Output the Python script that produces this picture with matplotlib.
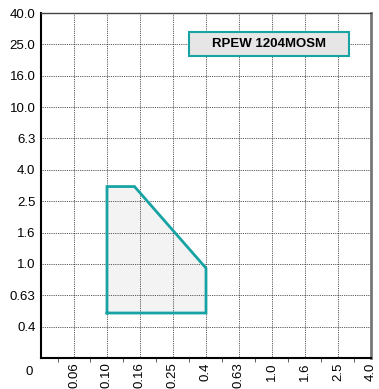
import numpy as np
import matplotlib
matplotlib.use('Agg')
import matplotlib.pyplot as plt
from matplotlib.patches import Polygon, Rectangle

# tick series (nominal values, evenly spaced on the chart)
x_ticks = [0, 0.06, 0.10, 0.16, 0.25, 0.4, 0.63, 1.0, 1.6, 2.5, 4.0]
x_labels = ['0', '0.06', '0.10', '0.16', '0.25', '0.4', '0.63', '1.0', '1.6', '2.5', '4.0']
y_ticks = [0, 0.4, 0.63, 1.0, 1.6, 2.5, 4.0, 6.3, 10.0, 16.0, 25.0, 40.0]
y_labels = ['', '0.4', '0.63', '1.0', '1.6', '2.5', '4.0', '6.3', '10.0', '16.0', '25.0', '40.0']

# application range outline
area_x = [0.10, 0.10, 0.15, 0.40, 0.40]
area_y = [0.50, 3.20, 3.20, 0.95, 0.50]
insert_name = 'RPEW 1204MOSM'

teal = '#17a3a3'
plt.rcParams['font.family'] = ['Liberation Sans', 'DejaVu Sans']

xi = np.arange(len(x_ticks))
yi = np.arange(len(y_ticks))

fig = plt.figure(figsize=(3.79, 3.89), dpi=100)
ax = fig.add_axes([41 / 379, 31 / 389, 330 / 379, 345 / 389])

ax.set_xscale('function', functions=(lambda v: np.interp(v, x_ticks, xi),
                                     lambda p: np.interp(p, xi, x_ticks)))
ax.set_yscale('function', functions=(lambda v: np.interp(v, y_ticks, yi),
                                     lambda p: np.interp(p, yi, y_ticks)))
ax.set_xlim(x_ticks[0], x_ticks[-1])
ax.set_ylim(y_ticks[0], y_ticks[-1])

ax.set_xticks(x_ticks)
ax.set_xticklabels(x_labels, rotation=90, fontsize=9.5)
ax.set_yticks(y_ticks)
ax.set_yticklabels(y_labels, fontsize=9.5)
ax.get_xticklabels()[0].set_visible(False)

# small marks half way between the x ticks
mids = np.interp(xi[:-1] + 0.5, xi, x_ticks)
ax.set_xticks(mids, minor=True)
ax.tick_params(axis='x', which='minor', length=3, width=0.6, color='#444444')
ax.tick_params(axis='x', which='major', length=0, pad=3)
ax.tick_params(axis='y', which='major', length=0, pad=4)

ax.grid(True, which='major', color='#222222', linestyle=(0, (1, 1.2)), linewidth=0.6, zorder=3)

poly = Polygon(list(zip(area_x, area_y)), closed=True, facecolor='#f3f3f3',
               edgecolor='none', zorder=1)
ax.add_patch(poly)
ax.plot(area_x + area_x[:1], area_y + area_y[:1], color=teal, linewidth=2, zorder=4,
        solid_joinstyle='miter')

ax.text(-0.025, -0.04, '0', transform=ax.transAxes, ha='right', va='center', fontsize=9.5)

for side in ['left', 'bottom']:
    ax.spines[side].set_color('black')
    ax.spines[side].set_linewidth(1.5)
ax.spines['top'].set_color('#444444')
ax.spines['top'].set_linewidth(1.0)
ax.spines['right'].set_color('#777777')
ax.spines['right'].set_linewidth(2.0)

box = Rectangle((0.448, 0.875), 0.485, 0.07, transform=ax.transAxes,
                facecolor='#e6e6e6', edgecolor=teal, linewidth=1.5, zorder=5)
ax.add_patch(box)
ax.text(0.69, 0.91, insert_name, transform=ax.transAxes, ha='center', va='center',
        fontsize=9.5, fontweight='bold', zorder=6)

fig.savefig('out.png', dpi=100)
